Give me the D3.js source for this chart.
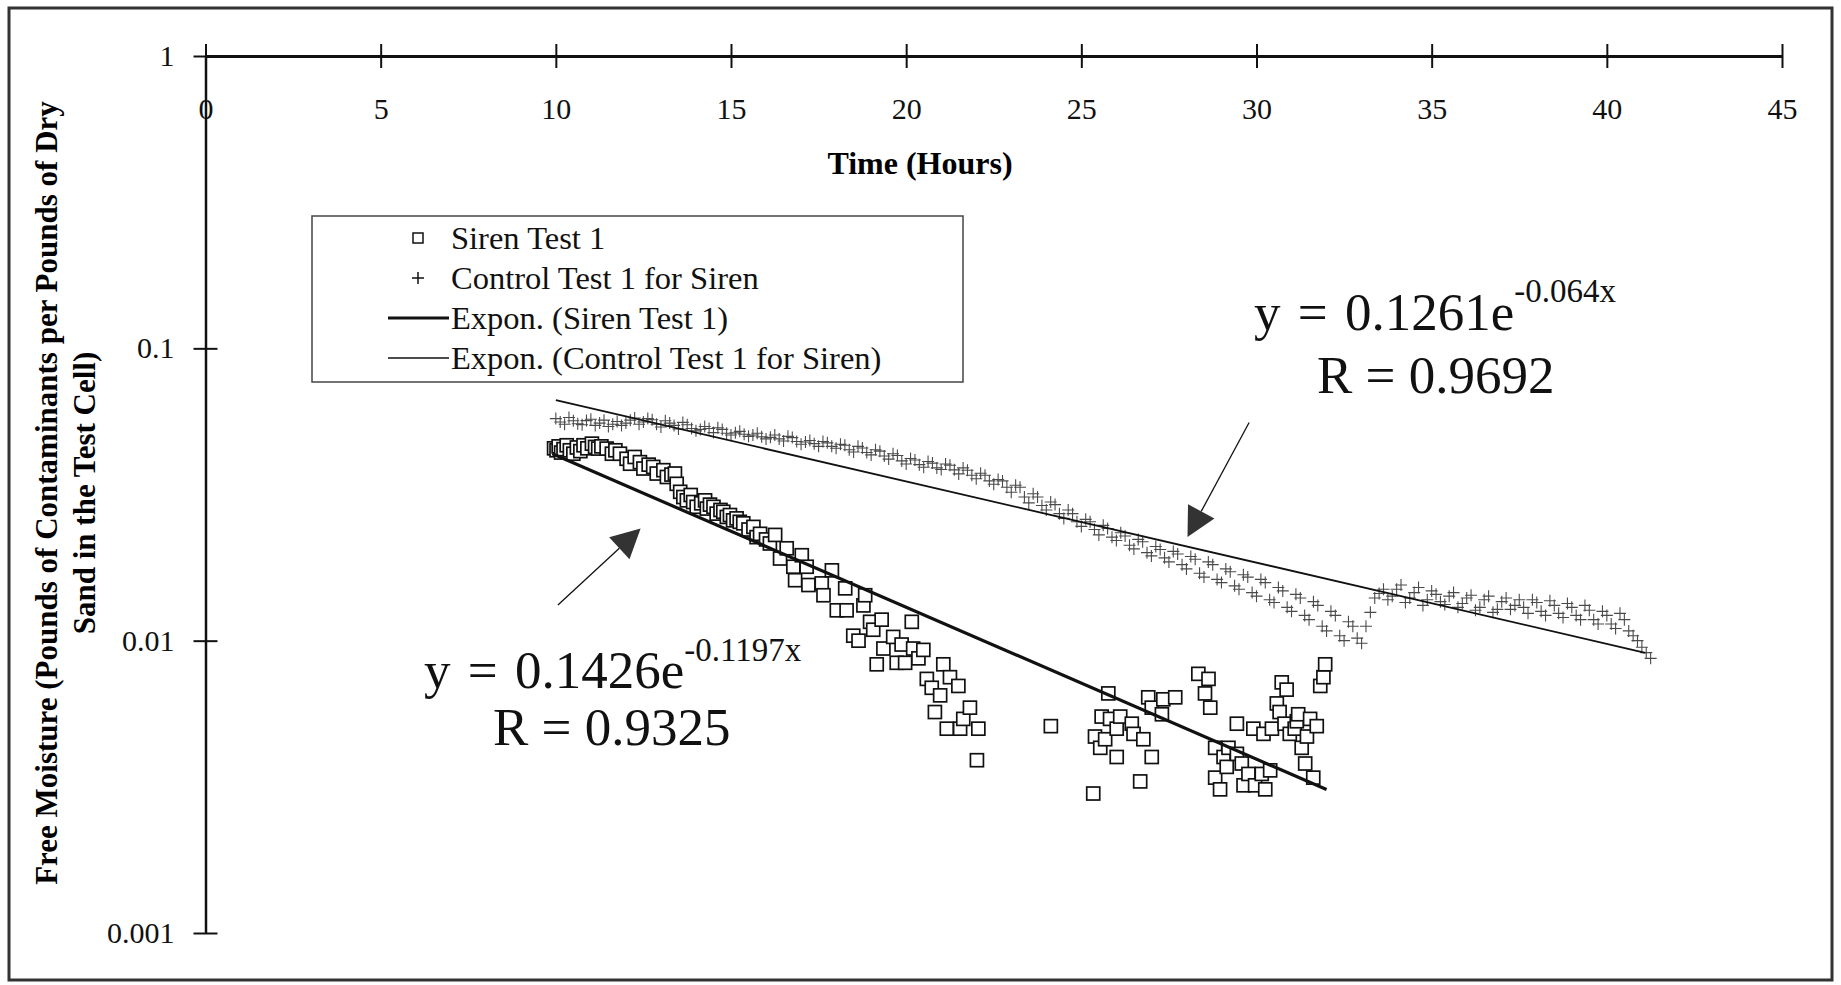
<!DOCTYPE html>
<html>
<head>
<meta charset="utf-8">
<script src="https://cdn.jsdelivr.net/npm/d3@7"></script>
<style>
  body { margin: 0; background: #fff; }
</style>
</head>
<body>
<div id="chart"></div>
<script>
const SERIF = "'Liberation Serif', 'Times New Roman', Times, serif";

// tick values
const xTicks = [0, 5, 10, 15, 20, 25, 30, 35, 40, 45];
const yTicks = [1, 0.1, 0.01, 0.001];

// Siren Test 1 : [hours, free moisture]
const sirenTest = [
  [9.95,0.0455],[10.02,0.0448],[10.08,0.0462],[10.15,0.0440],[10.22,0.0452],[10.31,0.0466],[10.4,0.0448],
  [10.5,0.0436],[10.6,0.0458],[10.7,0.0445],[10.79,0.0466],[10.9,0.0455],[11.03,0.0472],[11.12,0.0460],
  [11.21,0.0454],[11.3,0.0462],[11.45,0.0454],[11.6,0.0436],[11.7,0.0448],[11.83,0.0436],[12.02,0.0419],
  [12.12,0.0403],[12.25,0.0425],[12.4,0.0408],[12.5,0.0388],[12.65,0.0400],[12.78,0.0393],[12.88,0.0373],
  [13.07,0.0383],[13.17,0.0363],[13.3,0.0370],[13.4,0.0373],[13.45,0.0344],[13.55,0.0323],[13.64,0.0310],
  [13.74,0.0302],[13.85,0.0315],[13.92,0.0298],[14.02,0.0287],[14.15,0.0295],[14.26,0.0302],[14.31,0.0283],
  [14.4,0.0292],[14.5,0.0287],[14.59,0.0272],[14.7,0.0280],[14.78,0.0276],[14.88,0.0265],[14.97,0.0269],
  [15.06,0.0258],[15.16,0.0262],[15.25,0.0255],[15.35,0.0252],[15.5,0.0240],[15.64,0.0245],[15.73,0.0226],
  [15.83,0.0232],[16.0,0.0222],[16.11,0.0215],[16.26,0.0230],[16.4,0.0191],[16.59,0.0207],[16.78,0.0179],
  [16.83,0.0161],[17.02,0.0196],[17.16,0.0179],[17.21,0.0155],[17.59,0.0157],[17.64,0.0143],[17.88,0.0174],
  [18.02,0.0127],[18.26,0.0151],[18.3,0.0127],[18.49,0.0104],[18.64,0.0100],[18.78,0.0132],[18.83,0.0143],
  [18.97,0.0116],[19.06,0.0109],[19.16,0.0083],[19.3,0.0118],[19.35,0.0094],[19.63,0.0103],[19.73,0.0084],
  [19.87,0.0097],[19.97,0.0084],[20.16,0.0116],[20.2,0.0094],[20.35,0.0087],[20.49,0.0093],[20.59,0.0074],
  [20.73,0.0069],[20.82,0.0057],[20.97,0.0065],[21.06,0.0083],[21.16,0.0050],[21.25,0.0075],[21.49,0.0070],
  [21.54,0.0050],[21.63,0.0054],[21.82,0.0059],[22.02,0.0039],[22.06,0.0050],[24.13,0.0051],
  [25.34,0.0030],[25.39,0.0047],[25.54,0.0043],[25.58,0.0055],[25.68,0.0046],[25.77,0.0066],[25.82,0.0054],
  [26.01,0.0050],[26.01,0.0040],[26.11,0.0055],[26.44,0.0052],[26.49,0.0048],[26.68,0.0033],[26.77,0.0046],
  [26.91,0.0064],[27.01,0.0059],[27.01,0.0040],[27.30,0.0056],[27.34,0.0063],[27.68,0.0064],[28.34,0.0077],
  [28.53,0.0066],[28.63,0.0074],[28.68,0.0059],[28.82,0.0043],[28.82,0.0034],[28.96,0.0031],[29.06,0.0040],
  [29.15,0.0037],[29.20,0.0043],[29.44,0.0052],[29.44,0.0041],[29.58,0.0038],[29.63,0.0032],[29.77,0.0035],
  [29.91,0.0050],[29.96,0.0032],[30.15,0.0035],[30.20,0.0048],[30.25,0.0031],[30.39,0.0036],[30.44,0.0050],
  [30.58,0.0061],[30.66,0.0057],[30.72,0.0072],[30.80,0.0052],[30.86,0.0068],[30.95,0.0048],[31.09,0.0050],
  [31.15,0.0053],[31.19,0.0056],[31.29,0.0043],[31.39,0.0038],[31.44,0.0047],[31.53,0.0054],[31.62,0.0034],
  [31.72,0.0051],[31.82,0.0070],[31.91,0.0075],[31.96,0.0083]
];

// Control Test 1 for Siren : [hours, free moisture]
const controlTest = [
  [10.00,0.0575],[10.125,0.0560],[10.25,0.0550],[10.375,0.0580],[10.50,0.0565],[10.625,0.0552],[10.75,0.0548],
  [10.875,0.0566],[11.00,0.0572],[11.125,0.0545],[11.25,0.0555],[11.375,0.0568],[11.50,0.0540],[11.625,0.0550],
  [11.75,0.0562],[11.875,0.0545],[12.00,0.0555],[12.125,0.0568],[12.25,0.0578],[12.375,0.0550],[12.50,0.0560],
  [12.625,0.0575],[12.75,0.0570],[12.875,0.0550],[13.00,0.0538],[13.125,0.0565],[13.25,0.0555],[13.375,0.0545],
  [13.50,0.0530],[13.625,0.0558],[13.75,0.0548],[13.875,0.0532],[14.00,0.0522],[14.125,0.0528],[14.25,0.0540],
  [14.375,0.0532],[14.50,0.0515],[14.625,0.0535],[14.75,0.0528],[14.875,0.0512],[15.00,0.0505],[15.125,0.0514],
  [15.25,0.0520],[15.375,0.0508],[15.50,0.0500],[15.625,0.0505],[15.75,0.0512],[15.875,0.0498],[16.00,0.0490],
  [16.125,0.0496],[16.25,0.0505],[16.375,0.0490],[16.50,0.0482],[16.625,0.0500],[16.75,0.0495],[16.875,0.0480],
  [17.00,0.0470],[17.125,0.0478],[17.25,0.0484],[17.375,0.0472],[17.50,0.0462],[17.625,0.0480],[17.75,0.0475],
  [17.875,0.0462],[18.00,0.0455],[18.125,0.0470],[18.25,0.0466],[18.375,0.0450],[18.50,0.0442],[18.625,0.0462],
  [18.75,0.0456],[18.875,0.0440],[19.00,0.0432],[19.125,0.0450],[19.25,0.0445],[19.375,0.0428],[19.50,0.0418],
  [19.625,0.0436],[19.75,0.0430],[19.875,0.0412],[20.00,0.0402],[20.125,0.0420],[20.25,0.0415],[20.375,0.0400],
  [20.50,0.0392],[20.625,0.0410],[20.75,0.0405],[20.875,0.0390],[21.00,0.0385],[21.125,0.0402],[21.25,0.0398],
  [21.375,0.0384],[21.50,0.0372],[21.625,0.0390],[21.75,0.0383],[21.875,0.0368],[22.00,0.0358],[22.125,0.0374],
  [22.25,0.0368],[22.375,0.0352],[22.50,0.0343],[22.625,0.0356],[22.75,0.0352],[22.875,0.0335],[23.00,0.0322],
  [23.125,0.0340],[23.25,0.0335],[23.375,0.0310],[23.50,0.0296],[23.625,0.0318],[23.75,0.0310],[23.875,0.0290],
  [24.00,0.0280],[24.125,0.0298],[24.25,0.0292],[24.375,0.0272],[24.50,0.0262],[24.625,0.0280],[24.75,0.0272],
  [24.875,0.0255],[25.00,0.0246],[25.125,0.0260],[25.25,0.0255],[25.375,0.0240],[25.50,0.0230],[25.625,0.0248],
  [25.75,0.0242],[25.875,0.0226],[26.00,0.0220],[26.125,0.0234],[26.25,0.0228],[26.375,0.0212],[26.50,0.0206],
  [26.625,0.0222],[26.75,0.0218],[26.875,0.0200],[27.00,0.0195],[27.125,0.0210],[27.25,0.0205],[27.375,0.0192],
  [27.50,0.0186],[27.625,0.0202],[27.75,0.0198],[27.875,0.0182],[28.00,0.0176],[28.125,0.0194],[28.25,0.0190],
  [28.375,0.0170],[28.50,0.0165],[28.625,0.0186],[28.75,0.0182],[28.875,0.0162],[29.00,0.0158],[29.125,0.0176],
  [29.25,0.0172],[29.375,0.0154],[29.50,0.0150],[29.625,0.0168],[29.75,0.0165],[29.875,0.0146],[30.00,0.0142],
  [30.125,0.0162],[30.25,0.0158],[30.375,0.0138],[30.50,0.0135],[30.625,0.0152],[30.75,0.0148],[30.875,0.0130],
  [31.00,0.0126],[31.125,0.0144],[31.25,0.0140],[31.375,0.0122],[31.50,0.0118],[31.625,0.0136],[31.75,0.0132],
  [31.875,0.0112],[32.00,0.0108],[32.125,0.0126],[32.25,0.0122],[32.375,0.0104],[32.50,0.0100],[32.625,0.0116],
  [32.75,0.0112],[32.875,0.0102],[33.00,0.0098],[33.125,0.0112],[33.25,0.0125],[33.375,0.0140],[33.50,0.0145],
  [33.625,0.0150],[33.75,0.0138],[33.875,0.0142],[34.00,0.0150],[34.125,0.0155],[34.25,0.0135],[34.375,0.0140],
  [34.50,0.0146],[34.625,0.0152],[34.75,0.0132],[34.875,0.0138],[35.00,0.0148],[35.125,0.0144],[35.25,0.0136],
  [35.375,0.0133],[35.50,0.0142],[35.625,0.0146],[35.75,0.0130],[35.875,0.0134],[36.00,0.0140],[36.125,0.0143],
  [36.25,0.0127],[36.375,0.0130],[36.50,0.0138],[36.625,0.0142],[36.75,0.0125],[36.875,0.0128],[37.00,0.0136],
  [37.125,0.0140],[37.25,0.0128],[37.375,0.0132],[37.50,0.0138],[37.625,0.0130],[37.75,0.0124],[37.875,0.0138],
  [38.00,0.0135],[38.125,0.0126],[38.25,0.0122],[38.375,0.0137],[38.50,0.0132],[38.625,0.0124],[38.75,0.0120],
  [38.875,0.0134],[39.00,0.0130],[39.125,0.0122],[39.25,0.0118],[39.375,0.0132],[39.50,0.0127],[39.625,0.0118],
  [39.75,0.0114],[39.875,0.0126],[40.00,0.0122],[40.125,0.0114],[40.25,0.0110],[40.375,0.0124],[40.50,0.0118],
  [40.625,0.0108],[40.75,0.0104],[40.875,0.0100],[41.00,0.0095],[41.125,0.0091],[41.25,0.0087]
];

// exponential fits y = a * e^(b x), drawn over [from, to] hours
const sirenFit = { a: 0.1426, b: -0.1197, from: 9.9, to: 32.0 };
const controlFit = { a: 0.1261, b: -0.064, from: 10.0, to: 41.1 };

const legendLabels = ["Siren Test 1", "Control Test 1 for Siren", "Expon. (Siren Test 1)", "Expon. (Control Test 1 for Siren)"];

const W = 1841, H = 985;
const margin = {top: 56, right: 59, bottom: 52, left: 205.5},
    width = W - margin.left - margin.right,
    height = H - margin.top - margin.bottom;

const svg = d3.select("#chart")
    .append("svg")
    .attr("width", W)
    .attr("height", H)
    .style("font-family", SERIF);

// outer frame
svg.append("rect")
    .attr("x", 9).attr("y", 8)
    .attr("width", 1823).attr("height", 972)
    .attr("fill", "none")
    .attr("stroke", "#333")
    .attr("stroke-width", 3);

const g = svg.append("g")
    .attr("transform", `translate(${margin.left},${margin.top})`);

const x = d3.scaleLinear().domain([0, 45]).range([0, width]);
const y = d3.scaleLog().domain([0.001, 1]).range([height, 0]);

// X axis along the top, labels underneath
const xAxis = g.append("g")
    .call(d3.axisBottom(x).tickValues(xTicks).tickSize(12).tickSizeOuter(0));
xAxis.attr("font-family", null).attr("font-size", null);
xAxis.select(".domain").attr("stroke", "#111").attr("stroke-width", 3);
xAxis.selectAll(".tick line").attr("y1", -12).attr("y2", 12).attr("stroke", "#111").attr("stroke-width", 2);
xAxis.selectAll(".tick text")
    .attr("y", 63).attr("dy", null)
    .style("font-family", SERIF).style("font-size", "30px").attr("fill", "#111");

g.append("text")
    .attr("x", 920 - margin.left)
    .attr("y", 174 - margin.top)
    .attr("text-anchor", "middle")
    .style("font-family", SERIF)
    .style("font-size", "32px")
    .style("font-weight", "bold")
    .text("Time (Hours)");

// Y axis (log)
const yAxis = g.append("g")
    .call(d3.axisLeft(y).tickValues(yTicks).tickFormat(d => String(d)).tickSize(12).tickSizeOuter(0));
yAxis.attr("font-family", null).attr("font-size", null);
yAxis.select(".domain").attr("stroke", "#111").attr("stroke-width", 2.5);
yAxis.selectAll(".tick line").attr("x1", -12).attr("x2", 12).attr("stroke", "#111").attr("stroke-width", 2);
yAxis.selectAll(".tick text")
    .attr("x", -31)
    .style("font-family", SERIF).style("font-size", "30px").attr("fill", "#111");

const yTitle = svg.append("text")
    .attr("transform", "translate(57,493) rotate(-90)")
    .attr("text-anchor", "middle")
    .style("font-family", SERIF)
    .style("font-size", "31px")
    .style("font-weight", "bold");
yTitle.append("tspan").attr("x", 0).attr("y", 0)
    .text("Free Moisture (Pounds of Contaminants per Pounds of Dry");
yTitle.append("tspan").attr("x", 0).attr("y", 38)
    .text("Sand in the Test Cell)");

// Control points (+)
const plus = (cx, cy, s) => `M${cx - s},${cy}h${2 * s}M${cx},${cy - s}v${2 * s}`;
g.append("path")
    .attr("d", controlTest.map(d => plus(x(d[0]), y(d[1]), 6)).join(""))
    .attr("fill", "none")
    .attr("stroke", "#4a4a4a")
    .attr("stroke-width", 1.1);

// Siren points (open squares)
g.selectAll("rect.siren")
    .data(sirenTest)
    .join("rect")
    .attr("class", "siren")
    .attr("x", d => x(d[0]) - 6.5)
    .attr("y", d => y(d[1]) - 6.5)
    .attr("width", 13)
    .attr("height", 13)
    .attr("fill", "#fff")
    .attr("stroke", "#111")
    .attr("stroke-width", 1.7);

// trend lines
const fitLine = d3.line().x(d => x(d[0])).y(d => y(d[1]));
const fitPoints = f => [f.from, f.to].map(t => [t, f.a * Math.exp(f.b * t)]);
g.append("path")
    .datum(fitPoints(controlFit))
    .attr("fill", "none").attr("stroke", "#111").attr("stroke-width", 1.8)
    .attr("d", fitLine);
g.append("path")
    .datum(fitPoints(sirenFit))
    .attr("fill", "none").attr("stroke", "#111").attr("stroke-width", 3.2)
    .attr("d", fitLine);

// arrows pointing at the fits (start and tip in data units)
const arrows = [
    {from: [10.06, 0.01324], to: [12.42, 0.02417]},
    {from: [29.79, 0.05578], to: [28.03, 0.02264]}
];
arrows.forEach(a => {
    const x0 = x(a.from[0]), y0 = y(a.from[1]);
    const x1 = x(a.to[0]), y1 = y(a.to[1]);
    const len = Math.hypot(x1 - x0, y1 - y0);
    const ux = (x1 - x0) / len, uy = (y1 - y0) / len;
    const bx = x1 - ux * 29, by = y1 - uy * 29;
    g.append("line")
        .attr("x1", x0).attr("y1", y0).attr("x2", bx).attr("y2", by)
        .attr("stroke", "#111").attr("stroke-width", 1.3);
    g.append("polygon")
        .attr("points", [[x1, y1], [bx - uy * 15, by + ux * 15], [bx + uy * 15, by - ux * 15]].join(" "))
        .attr("fill", "#333");
});

// equations
function equation(xp, yp, main, sup, supDy) {
    const t = svg.append("text").attr("x", xp).attr("y", yp)
        .style("font-family", SERIF).style("font-size", "53px").attr("fill", "#111");
    t.append("tspan").style("word-spacing", "4px").text(main);
    t.append("tspan").attr("dy", supDy).style("font-size", "33px").text(sup);
}
function rLabel(xp, yp, txt) {
    svg.append("text").attr("x", xp).attr("y", yp)
        .style("font-family", SERIF).style("font-size", "53px").attr("fill", "#111")
        .text(txt);
}
equation(1254, 330, "y = 0.1261e", "-0.064x", -28);
rLabel(1317, 393, "R = 0.9692");
equation(424, 688, "y = 0.1426e", "-0.1197x", -27);
rLabel(493, 745, "R = 0.9325");

// legend
const legend = svg.append("g");
legend.append("rect")
    .attr("x", 312).attr("y", 216).attr("width", 651).attr("height", 166)
    .attr("fill", "#fff").attr("stroke", "#444").attr("stroke-width", 1.5);
const rowY = [238, 278, 318, 358];
legendLabels.forEach((lab, i) => {
    legend.append("text")
        .attr("x", 451).attr("y", rowY[i]).attr("dy", "0.35em")
        .style("font-family", SERIF)
        .style("font-size", "32.5px")
        .attr("fill", "#111")
        .text(lab);
});
legend.append("rect")
    .attr("x", 413).attr("y", rowY[0] - 5).attr("width", 10).attr("height", 10)
    .attr("fill", "#fff").attr("stroke", "#111").attr("stroke-width", 1.5);
legend.append("path")
    .attr("d", plus(418, rowY[1], 6))
    .attr("stroke", "#111").attr("stroke-width", 1.5);
legend.append("line")
    .attr("x1", 388).attr("x2", 449).attr("y1", rowY[2]).attr("y2", rowY[2])
    .attr("stroke", "#111").attr("stroke-width", 3.2);
legend.append("line")
    .attr("x1", 388).attr("x2", 449).attr("y1", rowY[3]).attr("y2", rowY[3])
    .attr("stroke", "#111").attr("stroke-width", 1.5);
</script>
</body>
</html>
